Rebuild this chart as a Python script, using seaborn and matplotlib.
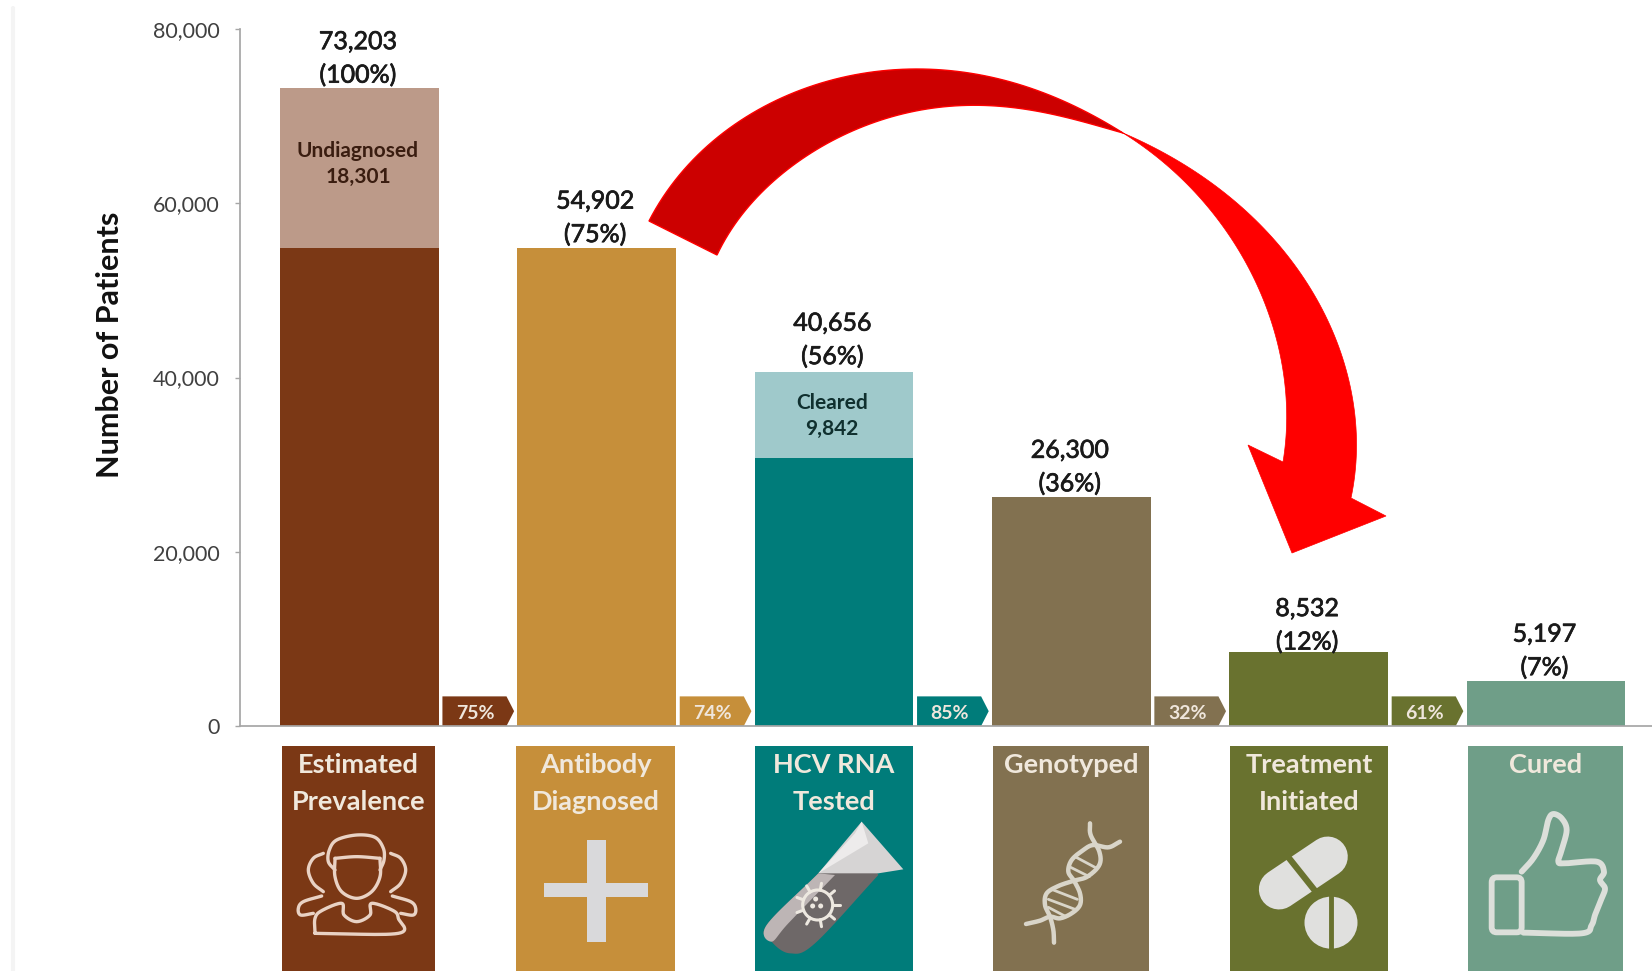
import numpy as np
import pandas as pd
import matplotlib
matplotlib.use("Agg")
import matplotlib.pyplot as plt
import matplotlib.patheffects as pe
from matplotlib.patches import Ellipse, FancyBboxPatch
import seaborn as sns

stages = ["Estimated\nPrevalence", "Antibody\nDiagnosed", "HCV RNA\nTested",
          "Genotyped", "Treatment\nInitiated", "Cured"]
totals = [73203, 54902, 40656, 26300, 8532, 5197]
solid_part = [54902, 54902, 30814, 26300, 8532, 5197]
total_labels = ["73,203", "54,902", "40,656", "26,300", "8,532", "5,197"]
pct_labels = ["(100%)", "(75%)", "(56%)", "(36%)", "(12%)", "(7%)"]
step_labels = ["75%", "74%", "85%", "32%", "61%"]
y_ticks = [0, 20000, 40000, 60000, 80000]

colors = ["#7B3815", "#C68F3A", "#007C7A", "#827150", "#69722F", "#6F9E88"]
top_colors = ["#BC9A89", "#C68F3A", "#9FC9CB", "#827150", "#69722F", "#6F9E88"]

W, H = 1652, 971

sns.set_theme(style="white")
plt.rcParams["font.family"] = ["Lato", "DejaVu Sans"]

fig = plt.figure(figsize=(W / 100, H / 100), dpi=100)
ax = fig.add_axes([240 / W, 1 - 726 / H, (W - 240) / W, (726 - 29) / H])

df = pd.DataFrame({"stage": stages, "total": totals, "solid": solid_part})
sns.barplot(data=df, x="stage", y="total", hue="stage", palette=top_colors, width=0.668,
            saturation=1, legend=False, linewidth=0, ax=ax)
sns.barplot(data=df, x="stage", y="solid", hue="stage", palette=colors, width=0.668,
            saturation=1, legend=False, linewidth=0, ax=ax)

ax.set_xlim(-0.503, 5.447)
ax.set_ylim(0, 80000)
ax.set_xlabel("")
ax.set_xticks([])
ax.set_ylabel("")
ax.set_yticks(y_ticks)
ax.set_yticklabels([f"{v:,}" for v in y_ticks], fontsize=15.5, color="#404040")
ax.tick_params(axis="y", left=True, length=3.6, width=1, color="#A6A6A6", pad=11)
sns.despine(ax=ax)
ax.spines["left"].set_color("#A6A6A6")
ax.spines["bottom"].set_color("#A6A6A6")

thick = [pe.withStroke(linewidth=0.5, foreground="#1A1A1A")]

# value labels over the bars
label_shift = [0, 0, -1.5, 0, 2.5, 0]
for i, (t, a, b) in enumerate(zip(totals, total_labels, pct_labels)):
    ax.annotate(a, (i, t), xytext=(-1, 33.5 - label_shift[i]), textcoords="offset points", ha="center",
                va="center", fontsize=18, color="#1A1A1A", path_effects=thick)
    ax.annotate(b, (i, t), xytext=(-1, 9.5 - label_shift[i]), textcoords="offset points", ha="center",
                va="center", fontsize=18, color="#1A1A1A", path_effects=thick)

# chevrons between bars
for i, s in enumerate(step_labels):
    x0, x1, xn = i + 0.35, i + 0.652, i + 0.62
    ax.fill([x0, xn, x1, xn, x0], [0, 0, 1700, 3400, 3400], color=colors[i], lw=0)
    ax.text(i + 0.488, 1450, s, ha="center", va="center", fontsize=14, weight="bold",
            color="#EFE6DC")

# overlay in pixel coordinates for panels, icons and the arrow
ov = fig.add_axes([0, 0, 1, 1], facecolor="none")
ov.set_xlim(0, W)
ov.set_ylim(H, 0)
ov.axis("off")


def smooth(pts, n=14):
    p = np.array(pts, dtype=float)
    p = np.vstack([2 * p[0] - p[1], p, 2 * p[-1] - p[-2]])
    out = []
    for k in range(1, len(p) - 2):
        for t in np.linspace(0, 1, n, endpoint=False):
            out.append(0.5 * (2 * p[k] + (p[k + 1] - p[k - 1]) * t
                              + (2 * p[k - 1] - 5 * p[k] + 4 * p[k + 1] - p[k + 2]) * t ** 2
                              + (3 * p[k] - p[k - 1] - 3 * p[k + 1] + p[k + 2]) * t ** 3))
    out.append(p[-2])
    return np.array(out)


def fit_edge(pts, deg=5, n=80):
    # low order fit so the traced arrow edges come out clean
    p = np.array(pts, dtype=float)
    s = np.r_[0, np.cumsum(np.hypot(*np.diff(p, axis=0).T))]
    s = s / s[-1]
    w = np.ones(len(p))
    w[[0, -1]] = 30
    t = np.linspace(0, 1, n)
    return np.c_[np.polyval(np.polyfit(s, p[:, 0], deg, w=w), t),
                 np.polyval(np.polyfit(s, p[:, 1], deg, w=w), t)]


def draw_curve(pts, x0, y0, color, lw, scale=3):
    c = smooth(pts)
    ov.plot(x0 + c[:, 0] / scale, y0 + c[:, 1] / scale, color=color, lw=lw,
            solid_capstyle="round", solid_joinstyle="round")


ov.plot([13, 13], [8, H], color="#F4F4F4", lw=3)
ov.text(110, 345, "Number of Patients", rotation=90, ha="center", va="center",
        fontsize=22, weight="bold", color="#111111")

# inner labels
ov.text(358, 151, "Undiagnosed", ha="center", va="center", fontsize=15, weight="bold", color="#3A1D10")
ov.text(358, 177, "18,301", ha="center", va="center", fontsize=15, weight="bold", color="#3A1D10")
ov.text(832, 403, "Cleared", ha="center", va="center", fontsize=15, weight="bold", color="#10302F")
ov.text(832, 429, "9,842", ha="center", va="center", fontsize=15, weight="bold", color="#10302F")

# panels under the bars
panel_left = [282, 516, 755, 993, 1230, 1468]
panel_right = [435, 675, 913, 1149, 1388, 1623]
for i, name in enumerate(stages):
    ov.fill([panel_left[i], panel_right[i], panel_right[i], panel_left[i]],
            [746, 746, H, H], color=colors[i], lw=0)
    mid = (panel_left[i] + panel_right[i]) / 2
    for j, line in enumerate(name.split("\n")):
        ov.text(mid, 765 + 36.5 * j, line, ha="center", va="center", fontsize=19.5,
                weight="bold", color="#F0E8DC")

# people icon
c = "#E9D2C4"
ox, oy = 280, 820
draw_curve([(165, 150), (145, 125), (148, 90), (170, 60), (230, 45), (285, 52), (310, 85), (312, 120), (300, 150)], ox, oy, c, 2.4)
draw_curve([(165, 115), (165, 170), (185, 215), (230, 235), (275, 215), (300, 170), (300, 115)], ox, oy, c, 2.4)
draw_curve([(165, 115), (230, 110), (300, 115)], ox, oy, c, 2.4)
draw_curve([(105, 340), (105, 295), (125, 272), (185, 250), (192, 285), (230, 305), (270, 285), (275, 250), (340, 272), (355, 295), (355, 340), (105, 340)], ox, oy, c, 2.4)
for sgn in [1, -1]:
    fx = (lambda x: x) if sgn == 1 else (lambda x: 462 - x)
    draw_curve([(fx(130), 100), (fx(100), 115), (fx(85), 150), (fx(100), 190), (fx(130), 215)], ox, oy, c, 2.4)
    draw_curve([(fx(125), 228), (fx(70), 245), (fx(55), 265), (fx(62), 285), (fx(100), 280)], ox, oy, c, 2.4)

# plus icon
ov.fill([587, 606, 606, 587], [840, 840, 942, 942], color="#D9D9DB", lw=0)
ov.fill([544, 648, 648, 544], [883, 883, 897, 897], color="#D9D9DB", lw=0)

# test tube icon
ox, oy = 755, 810
tube = smooth([(300, 70), (190, 190), (35, 345), (50, 395), (105, 430), (180, 400), (370, 195)])
ov.fill(ox + tube[:, 0] / 3, oy + tube[:, 1] / 3, color="#6E6868", lw=0)
ov.fill(ox + np.array([320, 445, 370, 190]) / 3, oy + np.array([35, 178, 190, 190]) / 3, color="#D6D4D4", lw=0)
ov.fill(ox + np.array([300, 320, 340, 190]) / 3, oy + np.array([70, 35, 100, 190]) / 3, color="#EDEBEB", lw=0)
strip = smooth([(190, 190), (35, 345), (50, 395), (100, 340), (240, 195)])
ov.fill(ox + strip[:, 0] / 3, oy + strip[:, 1] / 3, color="#BDB5B5", lw=0)
vx, vy = ox + 188 / 3, oy + 285 / 3
ov.add_patch(Ellipse((vx, vy), 30, 30, fill=False, ec="#EDE8E0", lw=2.2))
for ang in np.arange(0, 360, 40):
    a = np.deg2rad(ang)
    ov.plot([vx + 15 * np.cos(a), vx + 22 * np.cos(a)], [vy + 15 * np.sin(a), vy + 22 * np.sin(a)],
            color="#EDE8E0", lw=2.2)
for dx, dy in [(-2, -6), (-5, 1), (3, 1)]:
    ov.add_patch(Ellipse((vx + dx, vy + dy), 5, 5, color="#EDE8E0", lw=0))

# dna icon
c = "#D9D5C9"
ox, oy = 1000, 810
draw_curve([(270, 40), (272, 75), (298, 125), (298, 165), (262, 200), (222, 212), (175, 228), (140, 250), (135, 285), (150, 320), (160, 360), (162, 398)], ox, oy, c, 3.2)
draw_curve([(360, 95), (325, 112), (280, 105), (250, 120), (215, 150), (205, 185), (222, 212), (240, 250), (240, 285), (215, 310), (180, 325), (150, 320), (120, 332), (78, 342)], ox, oy, c, 3.2)
for a, b in [((225, 140), (285, 172)), ((212, 172), (268, 200)), ((160, 240), (232, 268)), ((145, 268), (225, 298)), ((145, 292), (198, 320))]:
    ov.plot([ox + a[0] / 3, ox + b[0] / 3], [oy + a[1] / 3, oy + b[1] / 3], color=c, lw=2)

# pills icon
c = "#E0E0DE"
ox, oy = 1230, 810
ov.plot([ox + 147 / 3, ox + 293 / 3], [oy + 238 / 3, oy + 140 / 3], color=c, lw=29, solid_capstyle="round")
ov.plot([ox + 172 / 3, ox + 258 / 3], [oy + 138 / 3, oy + 246 / 3], color=colors[4], lw=4.5)
ov.add_patch(Ellipse((ox + 303 / 3, oy + 338 / 3), 53, 52, color=c, lw=0))
ov.plot([ox + 303 / 3, ox + 303 / 3], [oy + 255 / 3, oy + 420 / 3], color=colors[4], lw=3.5)

# thumb icon
c = "#DCDFDA"
ox, oy = 1470, 800
ov.add_patch(FancyBboxPatch((ox + 65 / 3, oy + 232 / 3), 90 / 3, 165 / 3, boxstyle="round,pad=0,rounding_size=5",
                            fill=False, ec=c, lw=4.2))
draw_curve([(155, 215), (190, 175), (220, 120), (235, 60), (250, 42), (275, 55), (290, 90), (275, 150), (265, 185),
            (285, 190), (380, 185), (402, 215), (390, 240), (405, 265), (395, 295), (385, 320), (375, 345), (365, 375),
            (335, 400), (160, 398)], ox, oy, c, 4.2)

# curved red arrow, traced in pixels
outer_dark = fit_edge([(649, 221), (673, 183), (707, 147), (740, 120), (773, 102), (807, 88), (840, 78), (873, 72),
                       (913, 69), (957, 72), (1007, 80), (1057, 98), (1090, 115), (1123, 133)])
inner_dark = fit_edge([(1123, 133), (1073, 119), (1040, 112), (1007, 107), (973, 105), (940, 107), (907, 113), (873, 123),
                       (840, 137), (807, 155), (773, 182), (740, 217), (717, 255)])
outer_red = fit_edge([(1123, 133), (1173, 158), (1213, 183), (1257, 223), (1293, 263), (1323, 310), (1343, 357),
                      (1353, 403), (1356, 450), (1351, 498)], deg=4)
inner_red = fit_edge([(1283, 462), (1287, 413), (1282, 367), (1270, 317), (1250, 270), (1223, 227), (1190, 187),
                      (1157, 157), (1123, 133)], deg=4)
head = np.array([(1386, 516), (1292, 553), (1248, 445)])
dark = np.vstack([outer_dark, inner_dark])
red = np.vstack([outer_red, head, inner_red])
ov.fill(dark[:, 0], dark[:, 1], facecolor="#CC0000", edgecolor="#FF0000", lw=1)
ov.fill(red[:, 0], red[:, 1], facecolor="#FF0000", edgecolor="#FF0000", lw=0.5)

fig.savefig("out.png", dpi=100)
